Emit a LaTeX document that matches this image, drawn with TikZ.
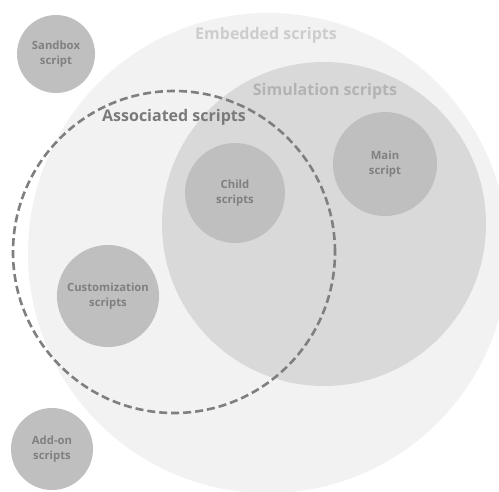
\documentclass[tikz,border=0pt]{standalone}
\usepackage{fontspec}
\setmainfont{Open Sans}
\definecolor{embfill}{HTML}{F2F2F2}
\definecolor{simfill}{HTML}{D9D9D9}
\definecolor{smallfill}{HTML}{BFBFBF}
\definecolor{dashcol}{HTML}{7F7F7F}
\definecolor{embtext}{HTML}{CDCDCD}
\definecolor{simtext}{HTML}{B3B3B3}
\definecolor{asstext}{HTML}{7A7A7A}
\definecolor{smalltext}{HTML}{808080}
\tikzset{
  bigset/.style={circle, inner sep=0pt, draw=none},
  smallset/.style={circle, fill=smallfill, draw=none, inner sep=0pt, align=center,
    font=\fontsize{11.3}{15}\selectfont\bfseries, text=smalltext},
  setlabel/.style={inner sep=0pt, font=\fontsize{16}{19}\selectfont\bfseries},
  dashring/.style={circle, draw=dashcol, line width=2.6pt, dash pattern=on 8pt off 4pt, inner sep=0pt}
}
\begin{document}
\begin{tikzpicture}[x=1pt,y=-1pt]
\useasboundingbox (0,0) rectangle (499,491);
\clip (0,0) rectangle (499,491);
\fill[white] (0,0) rectangle (499,491);
\node[bigset, fill=embfill, minimum size=480pt] (emb) at (268,253) {};
\node[bigset, fill=simfill, minimum size=324pt] (sim) at (324,224) {};
\node[smallset, minimum size=104pt] (main) at (385,164) {Main\\script};
\node[smallset, minimum size=100pt] (child) at (235,193) {Child\\scripts};
\node[smallset, minimum size=102pt] (cust) at (108,296) {Customization\\scripts};
\node[smallset, minimum size=78pt] (sand) at (56,54) {Sandbox\\script};
\node[smallset, minimum size=82pt] (addon) at (52,449) {Add-on\\scripts};
\node[dashring, minimum size=322pt] (assoc) at (174,252) {};
\node[setlabel, text=embtext] (embl) at (266,35) {Embedded scripts};
\node[setlabel, text=simtext] (siml) at (325,91) {Simulation scripts};
\node[setlabel, text=asstext] (assl) at (174,117) {Associated scripts};
\end{tikzpicture}
\end{document}
